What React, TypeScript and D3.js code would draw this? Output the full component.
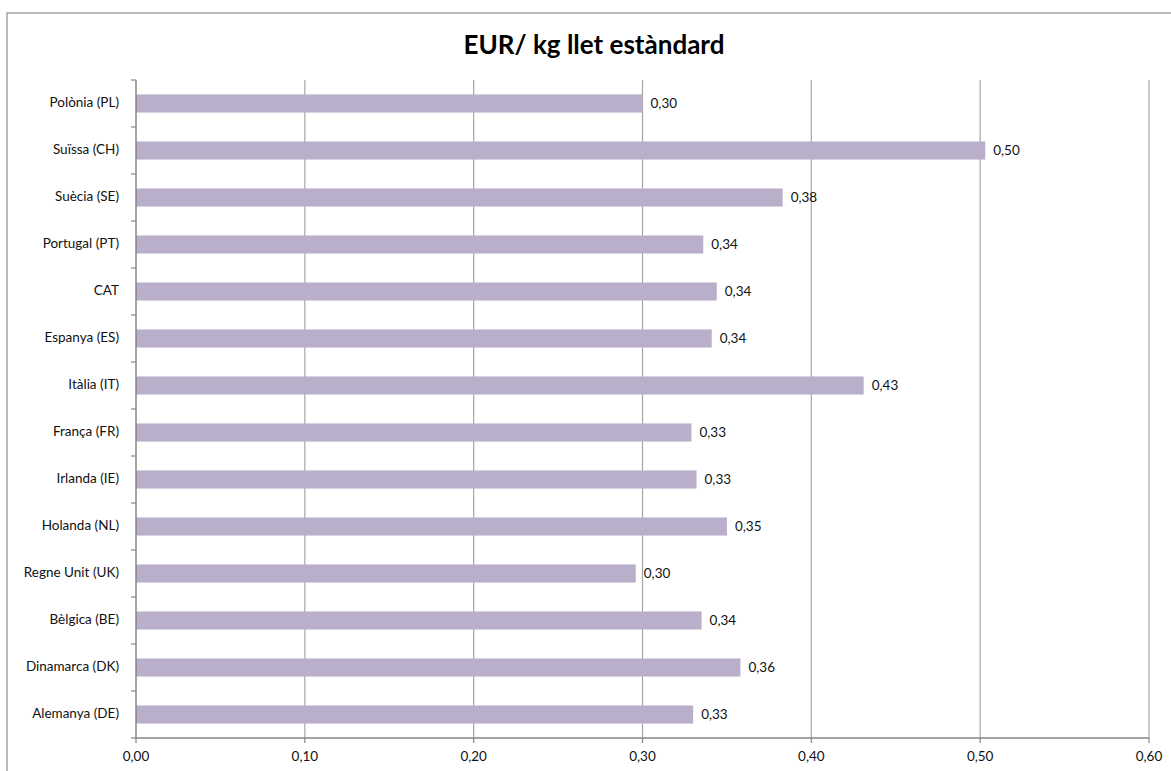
import React from "react";
import * as d3 from "d3";

const categories = [
  "Polònia (PL)",
  "Suïssa (CH)",
  "Suècia (SE)",
  "Portugal (PT)",
  "CAT",
  "Espanya (ES)",
  "Itàlia (IT)",
  "França (FR)",
  "Irlanda (IE)",
  "Holanda (NL)",
  "Regne Unit (UK)",
  "Bèlgica (BE)",
  "Dinamarca (DK)",
  "Alemanya (DE)",
];
const values = [0.3, 0.503, 0.383, 0.336, 0.344, 0.341, 0.431, 0.329, 0.332, 0.35, 0.296, 0.335, 0.358, 0.33];
const xTicks = [0, 0.1, 0.2, 0.3, 0.4, 0.5, 0.6];
const title = "EUR/ kg llet estàndard";

const W = 1171;
const H = 771;
const FONT = "Lato, 'Open Sans', sans-serif";

export default function App() {
  const x = d3.scaleLinear().domain([0, 0.6]).range([136, 1149]);
  const y = d3.scaleBand().domain(categories).range([80, 738]).paddingInner(0).paddingOuter(0);
  const bw = y.bandwidth();
  const barH = bw * 0.385;
  const fmt = (v: number) => d3.format(".2f")(v).replace(".", ",");
  const boundaries = d3.range(categories.length + 1).map((i) => 80 + i * bw);

  return (
    <svg
      width={W}
      height={H}
      style={{ position: "absolute", left: 0, top: 0, background: "#fff" }}
      fontFamily={FONT}
    >
      <rect x={7} y={13} width={1300} height={900} fill="#fff" stroke="#8e8e8e" strokeWidth={1.2} />
      <text x={594} y={54} textAnchor="middle" fontSize={26} fontWeight="bold" fill="#000">
        {title}
      </text>
      {xTicks.slice(1).map((t) => (
        <line key={"g" + t} x1={x(t)} x2={x(t)} y1={80} y2={738} stroke="#a6a6a6" strokeWidth={1.2} />
      ))}
      {categories.map((c, i) => {
        const cy = (y(c) as number) + bw / 2;
        return (
          <g key={c}>
            <rect x={x(0)} y={cy - barH / 2} width={x(values[i]) - x(0)} height={barH} fill="#b9afcb" />
            <text x={x(values[i]) + 8} y={cy + 1.5} dominantBaseline="middle" fontSize={13.5} fill="#111">
              {fmt(values[i])}
            </text>
            <text x={119} y={cy} dominantBaseline="middle" textAnchor="end" fontSize={13.5} fill="#111">
              {c}
            </text>
          </g>
        );
      })}
      <line x1={136} x2={136} y1={80} y2={738} stroke="#868686" strokeWidth={1.5} />
      {boundaries.map((b, i) => (
        <line key={"yt" + i} x1={131} x2={136} y1={b} y2={b} stroke="#868686" strokeWidth={1.2} />
      ))}
      <line x1={136} x2={1149} y1={738} y2={738} stroke="#868686" strokeWidth={1.5} />
      {xTicks.map((t) => (
        <g key={"xt" + t}>
          <line x1={x(t)} x2={x(t)} y1={738} y2={743} stroke="#868686" strokeWidth={1.2} />
          <text x={x(t)} y={758} textAnchor="middle" dominantBaseline="middle" fontSize={13.5} fill="#111">
            {fmt(t)}
          </text>
        </g>
      ))}
    </svg>
  );
}
